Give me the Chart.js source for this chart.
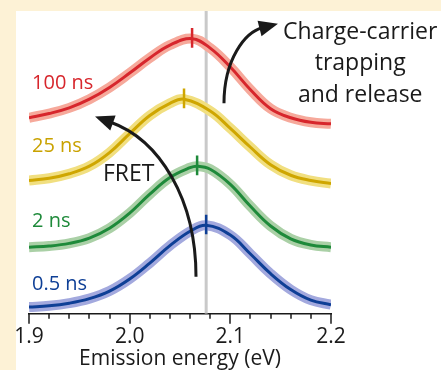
<!doctype html>
<html>
<head>
<title>Emission spectra</title>
<script src="https://cdn.jsdelivr.net/npm/chart.js@4.4.0/dist/chart.umd.min.js"></script>
<style>
html, body { margin: 0; padding: 0; background: #fdf2d6; }
#wrap { width: 441px; height: 370px; }
</style>
</head>
<body>
<div id="wrap"><canvas id="canvas" width="441" height="370"></canvas></div>
<script>
// emission energy samples (eV)
var energy = [1.90, 1.92, 1.94, 1.96, 1.98, 2.00, 2.02, 2.04, 2.06, 2.08, 2.10, 2.12, 2.14, 2.16, 2.18, 2.20];

// intensities, offset vertically (arb. units)
var ns05  = [0.09, 0.105, 0.14, 0.20, 0.30, 0.46, 0.67, 0.90, 1.09, 1.165, 1.04, 0.79, 0.53, 0.32, 0.18, 0.12];
var ns2   = [0.88, 0.895, 0.93, 1.00, 1.13, 1.33, 1.58, 1.80, 1.93, 1.91, 1.71, 1.42, 1.16, 0.99, 0.91, 0.88];
var ns25  = [1.76, 1.79, 1.85, 1.95, 2.13, 2.38, 2.62, 2.78, 2.83, 2.68, 2.45, 2.20, 1.97, 1.83, 1.76, 1.72];
var ns100 = [2.59, 2.645, 2.72, 2.835, 2.99, 3.18, 3.38, 3.55, 3.63, 3.51, 3.26, 2.96, 2.71, 2.59, 2.53, 2.51];

var seriesNames = ['0.5 ns', '2 ns', '25 ns', '100 ns'];
var peakEnergy = [2.076, 2.067, 2.054, 2.062];
var peakValue = [1.17, 1.95, 2.835, 3.635];
var refEnergy = 2.076;
var majorTicks = [1.9, 2.0, 2.1, 2.2];

var lineColors = ['#0e3f96', '#1e8a3a', '#cfa600', '#d7262c'];
var bandColors = ['#a3a9de', '#aad0a6', '#f1df80', '#f6a99b'];
var textColors = ['#0e3f96', '#1e8a3a', '#c9a200', '#d7262c'];
var FONT = "'Open Sans', sans-serif";

var allValues = [ns05, ns2, ns25, ns100];

// samples plus the marked peak; a sample sitting right on the peak is replaced by it
function seriesPoints(i) {
	var pts = [];
	energy.forEach(function (e, j) {
		if (Math.abs(e - peakEnergy[i]) > 0.0065) pts.push({ x: e, y: allValues[i][j] });
	});
	pts.push({ x: peakEnergy[i], y: peakValue[i] });
	pts.sort(function (a, b) { return a.x - b.x; });
	return pts;
}

var markers = [], lines = [], bands = [];
for (var i = 0; i < 4; i++) {
	markers.push({
		data: [{ x: peakEnergy[i], y: peakValue[i] - 0.12 }, { x: peakEnergy[i], y: peakValue[i] + 0.14 }],
		borderColor: lineColors[i], borderWidth: 2.5, pointRadius: 0
	});
	lines.push({
		data: seriesPoints(i),
		borderColor: lineColors[i], borderWidth: 3, pointRadius: 0,
		tension: 0.4, borderCapStyle: 'butt'
	});
	bands.push({
		data: seriesPoints(i),
		borderColor: bandColors[i], borderWidth: 10, pointRadius: 0,
		tension: 0.4, borderCapStyle: 'butt'
	});
}
var refLine = {
	data: [{ x: refEnergy, y: 0 }, { x: refEnergy, y: 4 }],
	borderColor: '#c9c9c9', borderWidth: 3, pointRadius: 0
};

// text and arrows placed in data units
var seriesLabelPos = [[1.903, 0.39], [1.903, 1.22], [1.903, 2.21], [1.903, 3.05]];
var fretArrow = [[2.0659, 0.49], [2.0659, 1.51], [2.0301, 2.30], [1.9656, 2.605]];
var trapArrow = [[2.0937, 2.78], [2.0937, 3.36], [2.1146, 3.72], [2.1473, 3.83]];

var backdrop = {
	id: 'backdrop',
	beforeDraw: function (chart) {
		var c = chart.ctx;
		c.save();
		c.fillStyle = '#fdf2d6';
		c.fillRect(0, 0, chart.width, chart.height);
		c.fillStyle = '#ffffff';
		c.fillRect(16, 11, chart.width - 16, chart.height - 11);
		c.restore();
	}
};

function drawArrow(c, xs, ys, pts) {
	var p = pts.map(function (q) { return [xs.getPixelForValue(q[0]), ys.getPixelForValue(q[1])]; });
	var dx = p[3][0] - p[2][0], dy = p[3][1] - p[2][1];
	var len = Math.sqrt(dx * dx + dy * dy);
	var ux = dx / len, uy = dy / len;
	var headL = 19, headW = 8;
	var bx = p[3][0] - ux * headL, by = p[3][1] - uy * headL;
	c.strokeStyle = '#1a1a1a';
	c.fillStyle = '#1a1a1a';
	c.lineWidth = 3;
	c.beginPath();
	c.moveTo(p[0][0], p[0][1]);
	c.bezierCurveTo(p[1][0], p[1][1], p[2][0], p[2][1], bx + ux * 3, by + uy * 3);
	c.stroke();
	c.beginPath();
	c.moveTo(p[3][0], p[3][1]);
	c.lineTo(bx - uy * headW, by + ux * headW);
	c.lineTo(bx + uy * headW, by - ux * headW);
	c.closePath();
	c.fill();
}

var annotations = {
	id: 'annotations',
	afterDatasetsDraw: function (chart) {
		var c = chart.ctx, xs = chart.scales.x, ys = chart.scales.y;
		c.save();
		c.textBaseline = 'middle';
		c.font = '20px ' + FONT;
		c.textAlign = 'left';
		for (var i = 0; i < 4; i++) {
			c.fillStyle = textColors[i];
			c.fillText(seriesNames[i], xs.getPixelForValue(seriesLabelPos[i][0]), ys.getPixelForValue(seriesLabelPos[i][1]));
		}
		drawArrow(c, xs, ys, fretArrow);
		drawArrow(c, xs, ys, trapArrow);
		c.fillStyle = '#1a1a1a';
		c.font = '23px ' + FONT;
		c.fillText('FRET', xs.getPixelForValue(1.9735), ys.getPixelForValue(1.84));
		c.textAlign = 'center';
		c.fillText('Charge-carrier', xs.getPixelForValue(2.229), ys.getPixelForValue(3.72));
		c.fillText('trapping', xs.getPixelForValue(2.229), ys.getPixelForValue(3.31));
		c.fillText('and release', xs.getPixelForValue(2.229), ys.getPixelForValue(2.89));
		c.restore();
	}
};

var tickMarks = {
	id: 'tickMarks',
	afterDraw: function (chart) {
		var c = chart.ctx, xs = chart.scales.x;
		var y0 = chart.chartArea.bottom;
		c.save();
		c.strokeStyle = '#1a1a1a';
		c.lineWidth = 1.5;
		xs.ticks.forEach(function (t) {
			var px = Math.round(xs.getPixelForValue(t.value));
			var major = majorTicks.some(function (m) { return Math.abs(m - t.value) < 1e-6; });
			c.beginPath();
			c.moveTo(px, y0);
			c.lineTo(px, y0 + (major ? 10 : 5));
			c.stroke();
		});
		c.restore();
	}
};

window.onload = function () {
	var ctx = document.getElementById('canvas').getContext('2d');
	window.myChart = new Chart(ctx, {
		type: 'line',
		data: { datasets: markers.concat(lines, bands, [refLine]) },
		options: {
			responsive: false,
			animation: false,
			layout: { padding: { left: 29, right: 110, top: 11, bottom: 0 } },
			plugins: { legend: { display: false }, tooltip: { enabled: false } },
			scales: {
				x: {
					type: 'linear', min: 1.9, max: 2.2,
					grid: { drawOnChartArea: false, drawTicks: true, tickLength: 10, color: 'rgba(0,0,0,0)' },
					border: { display: true, color: '#1a1a1a', width: 1.5 },
					ticks: {
						stepSize: 0.02, autoSkip: false, maxRotation: 0, padding: 1,
						color: '#1a1a1a', font: { family: FONT, size: 21 },
						callback: function (v) {
							var major = majorTicks.some(function (m) { return Math.abs(m - v) < 1e-6; });
							return major ? v.toFixed(1) : '';
						}
					},
					title: {
						display: true, text: 'Emission energy (eV)', color: '#1a1a1a',
						font: { family: FONT, size: 21, lineHeight: 1 }, padding: { top: -2, bottom: 0 }
					}
				},
				y: { display: false, min: 0, max: 4 }
			}
		},
		plugins: [backdrop, tickMarks, annotations]
	});
};
</script>
</body>
</html>
